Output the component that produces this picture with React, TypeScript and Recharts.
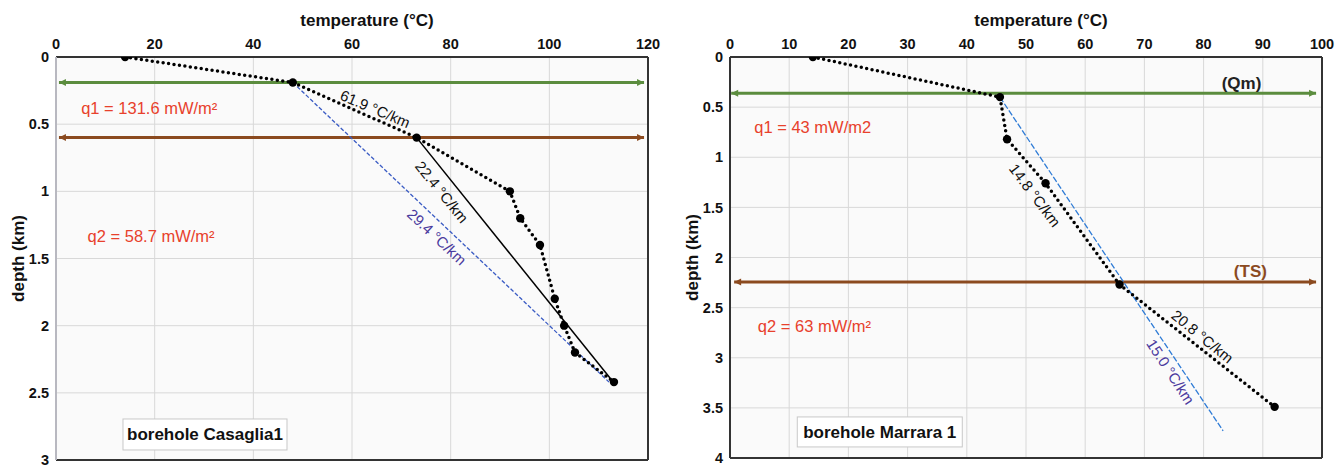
import React from 'react';
import { ComposedChart, Scatter, XAxis, YAxis, CartesianGrid, ReferenceLine, Label } from 'recharts';

const FONT = '"Liberation Sans", Arial, Helvetica, sans-serif';

// ---------- Left chart: borehole Casaglia1 ----------
const leftTempTicks = [0, 20, 40, 60, 80, 100, 120];
const leftDepthTicks = [0, 0.5, 1, 1.5, 2, 2.5, 3];
const leftProfileTemp = [14, 48, 73.1, 92, 94.1, 98.1, 101.1, 103, 105.2, 113.1];
const leftProfileDepth = [0, 0.19, 0.6, 1.0, 1.2, 1.4, 1.8, 2.0, 2.2, 2.42];
const leftSolidTemp = [73.1, 112.3];
const leftSolidDepth = [0.6, 2.39];
const leftBlueTemp = [48, 112.1];
const leftBlueDepth = [0.19, 2.42];
const leftGreenTemp = [0.6, 119.2];
const leftGreenDepth = [0.19, 0.19];
const leftBrownTemp = [0.6, 119.2];
const leftBrownDepth = [0.6, 0.6];
const leftGradTexts = ['61.9 °C/km', '22.4 °C/km'];
const leftGradTemp = [64.7, 78.2];
const leftGradDepth = [0.387, 1.005];
const leftGradAngle = [23, 51];
const leftBlueText = ['29.4 °C/km'];
const leftBlueTextTemp = [77.2];
const leftBlueTextDepth = [1.34];
const leftBlueTextAngle = [43];
const leftFluxTexts = ['q1 = 131.6 mW/m²', 'q2 = 58.7 mW/m²'];
const leftFluxTemp = [5.1, 6.4];
const leftFluxDepth = [0.38, 1.333];
const leftBoxText = ['borehole Casaglia1'];
const leftBoxTemp = [30.2];
const leftBoxDepth = [2.81];

// ---------- Right chart: borehole Marrara 1 ----------
const rightTempTicks = [0, 10, 20, 30, 40, 50, 60, 70, 80, 90, 100];
const rightDepthTicks = [0, 0.5, 1, 1.5, 2, 2.5, 3, 3.5, 4];
const rightProfileTemp = [14, 45.6, 46.8, 53.3, 65.8, 92];
const rightProfileDepth = [0, 0.4, 0.82, 1.26, 2.27, 3.49];
const rightBlueTemp = [45.6, 83.3];
const rightBlueDepth = [0.4, 3.73];
const rightGreenTemp = [0.2, 99.0];
const rightGreenDepth = [0.362, 0.362];
const rightBrownTemp = [0.7, 99.0];
const rightBrownDepth = [2.245, 2.245];
const rightGradTexts = ['14.8 °C/km', '20.8 °C/km'];
const rightGradTemp = [51.5, 79.8];
const rightGradDepth = [1.38, 2.79];
const rightGradAngle = [53, 39];
const rightBlueText = ['15.0 °C/km'];
const rightBlueTextTemp = [74.4];
const rightBlueTextDepth = [3.14];
const rightBlueTextAngle = [57];
const rightFluxTexts = ['q1 = 43 mW/m2', 'q2 = 63 mW/m²'];
const rightFluxTemp = [4.1, 4.7];
const rightFluxDepth = [0.7, 2.69];
const rightQmText = ['(Qm)'];
const rightQmTemp = [86.4];
const rightQmDepth = [0.26];
const rightTsText = ['(TS)'];
const rightTsTemp = [87.9];
const rightTsDepth = [2.14];
const rightBoxText = ['borehole Marrara 1'];
const rightBoxTemp = [25.3];
const rightBoxDepth = [3.74];

// ---------- helpers ----------
const pts = (t: number[], d: number[]) => t.map((v, i) => ({ t: v, d: d[i] }));
const arrowPts = (t: number[], d: number[]) => t.map((v, i) => ({ t: v, d: d[i], dir: i === 0 ? -1 : 1 }));
const txt = (s: string[], t: number[], d: number[], a?: number[]) =>
  s.map((v, i) => ({ t: t[i], d: d[i], text: v, angle: a ? a[i] : 0 }));

const GREEN = '#5b8c3e';
const BROWN = '#8b4a1f';
const RED = '#e8412c';
const PURPLE = '#4b3a9e';

const dotShape = (r: number) => (p: any) => <circle cx={p.cx} cy={p.cy} r={r} fill="#000" />;
const noShape = () => <g />;
const arrowShape = (color: string) => (p: any) => {
  const dir = p.payload.dir;
  const { cx, cy } = p;
  return (
    <polygon
      points={`${cx},${cy} ${cx - dir * 7},${cy - 3.5} ${cx - dir * 7},${cy + 3.5}`}
      fill={color}
    />
  );
};
const textShape = (color: string, size: number, weight: string, anchor: string) => (p: any) => {
  const { cx, cy, payload } = p;
  return (
    <text
      x={cx}
      y={cy}
      dy="0.35em"
      textAnchor={anchor as any}
      transform={payload.angle ? `rotate(${payload.angle} ${cx} ${cy})` : undefined}
      fill={color}
      fontSize={size}
      fontWeight={weight}
      fontFamily={FONT}
    >
      {payload.text}
    </text>
  );
};
const boxShape = (w: number, h: number) => (p: any) => {
  const { cx, cy, payload } = p;
  return (
    <g>
      <rect x={cx - w / 2} y={cy - h / 2} width={w} height={h} fill="#fff" stroke="#c8c8c8" strokeWidth={1} />
      <text x={cx} y={cy} dy="0.35em" textAnchor="middle" fontSize={17} fontWeight="bold" fill="#111" fontFamily={FONT}>
        {payload.text}
      </text>
    </g>
  );
};

const tickStyle = { fontSize: 14.5, fontWeight: 'bold', fill: '#111', fontFamily: FONT };

const xTitle = (p: any) => {
  const vb = p.viewBox;
  return (
    <text x={vb.x + vb.width / 2 + 15} y={26} textAnchor="middle" fontSize={17} fontWeight="bold" fill="#111" fontFamily={FONT}>
      temperature (°C)
    </text>
  );
};
const yTitle = (p: any) => {
  const vb = p.viewBox;
  const cy = vb.y + vb.height / 2;
  return (
    <text x={18} y={cy} transform={`rotate(-90 18 ${cy})`} dy="0.35em" textAnchor="middle" fontSize={17} fontWeight="bold" fill="#111" fontFamily={FONT}>
      depth (km)
    </text>
  );
};

type PanelProps = {
  width: number;
  height: number;
  margin: any;
  tempTicks: number[];
  depthTicks: number[];
  leftBorder: string;
  children: React.ReactNode;
};

function Panel({ width, height, margin, tempTicks, depthTicks, leftBorder, children }: PanelProps) {
  const tMax = tempTicks[tempTicks.length - 1];
  const dMax = depthTicks[depthTicks.length - 1];
  return (
    <ComposedChart width={width} height={height} margin={margin}>
      <CartesianGrid fill="#fafafa" stroke="#d8d8d8" strokeWidth={1} />
      <XAxis
        type="number"
        dataKey="t"
        orientation="top"
        domain={[0, tMax]}
        ticks={tempTicks}
        allowDataOverflow
        height={57}
        tickLine={false}
        tickSize={6}
        tickMargin={2}
        tick={tickStyle}
        axisLine={{ stroke: '#333', strokeWidth: 2 }}
        interval={0}
        label={<Label content={xTitle} />}
      />
      <YAxis
        type="number"
        dataKey="d"
        reversed
        domain={[0, dMax]}
        ticks={depthTicks}
        allowDataOverflow
        width={56}
        tickLine={false}
        tickSize={6}
        tickMargin={1}
        tick={tickStyle}
        axisLine={{ stroke: leftBorder, strokeWidth: 2 }}
        interval={0}
        label={<Label content={yTitle} />}
      />
      <ReferenceLine x={tMax} stroke="#333" strokeWidth={2} />
      <ReferenceLine y={dMax} stroke="#333" strokeWidth={2} />
      {children}
    </ComposedChart>
  );
}

export default function App() {
  return (
    <div style={{ position: 'absolute', left: 0, top: 0, width: 1343, height: 465, background: '#fff' }}>
      <div style={{ position: 'absolute', left: 0, top: 0 }}>
        <Panel
          width={668}
          height={465}
          margin={{ top: 0, right: 20, bottom: 5, left: 0 }}
          tempTicks={leftTempTicks}
          depthTicks={leftDepthTicks}
          leftBorder="#b8b8c0"
        >
          <Scatter data={arrowPts(leftGreenTemp, leftGreenDepth)} line={{ stroke: GREEN, strokeWidth: 3 }} shape={arrowShape(GREEN)} isAnimationActive={false} />
          <Scatter data={arrowPts(leftBrownTemp, leftBrownDepth)} line={{ stroke: BROWN, strokeWidth: 3 }} shape={arrowShape(BROWN)} isAnimationActive={false} />
          <Scatter data={pts(leftBlueTemp, leftBlueDepth)} line={{ stroke: '#3b5cc4', strokeWidth: 1.3, strokeDasharray: '4 2' }} shape={noShape} isAnimationActive={false} />
          <Scatter data={pts(leftSolidTemp, leftSolidDepth)} line={{ stroke: '#000', strokeWidth: 1.5 }} shape={noShape} isAnimationActive={false} />
          <Scatter
            data={pts(leftProfileTemp, leftProfileDepth)}
            line={{ stroke: '#000', strokeWidth: 3.5, strokeDasharray: '0 5.5', strokeLinecap: 'round' }}
            shape={dotShape(4.2)}
            isAnimationActive={false}
          />
          <Scatter data={txt(leftGradTexts, leftGradTemp, leftGradDepth, leftGradAngle)} shape={textShape('#111', 15, 'normal', 'middle')} isAnimationActive={false} />
          <Scatter data={txt(leftBlueText, leftBlueTextTemp, leftBlueTextDepth, leftBlueTextAngle)} shape={textShape(PURPLE, 15, 'normal', 'middle')} isAnimationActive={false} />
          <Scatter data={txt(leftFluxTexts, leftFluxTemp, leftFluxDepth)} shape={textShape(RED, 16.5, 'normal', 'start')} isAnimationActive={false} />
          <Scatter data={txt(leftBoxText, leftBoxTemp, leftBoxDepth)} shape={boxShape(164, 31)} isAnimationActive={false} />
        </Panel>
      </div>
      <div style={{ position: 'absolute', left: 674, top: 0 }}>
        <Panel
          width={669}
          height={465}
          margin={{ top: 0, right: 21, bottom: 7, left: 0 }}
          tempTicks={rightTempTicks}
          depthTicks={rightDepthTicks}
          leftBorder="#333"
        >
          <Scatter data={arrowPts(rightGreenTemp, rightGreenDepth)} line={{ stroke: GREEN, strokeWidth: 3 }} shape={arrowShape(GREEN)} isAnimationActive={false} />
          <Scatter data={arrowPts(rightBrownTemp, rightBrownDepth)} line={{ stroke: BROWN, strokeWidth: 3 }} shape={arrowShape(BROWN)} isAnimationActive={false} />
          <Scatter data={pts(rightBlueTemp, rightBlueDepth)} line={{ stroke: '#2e7bd6', strokeWidth: 1.3, strokeDasharray: '6 2' }} shape={noShape} isAnimationActive={false} />
          <Scatter
            data={pts(rightProfileTemp, rightProfileDepth)}
            line={{ stroke: '#000', strokeWidth: 3.5, strokeDasharray: '0 5.5', strokeLinecap: 'round' }}
            shape={dotShape(4.2)}
            isAnimationActive={false}
          />
          <Scatter data={txt(rightGradTexts, rightGradTemp, rightGradDepth, rightGradAngle)} shape={textShape('#111', 15, 'normal', 'middle')} isAnimationActive={false} />
          <Scatter data={txt(rightBlueText, rightBlueTextTemp, rightBlueTextDepth, rightBlueTextAngle)} shape={textShape(PURPLE, 15, 'normal', 'middle')} isAnimationActive={false} />
          <Scatter data={txt(rightFluxTexts, rightFluxTemp, rightFluxDepth)} shape={textShape(RED, 16.5, 'normal', 'start')} isAnimationActive={false} />
          <Scatter data={txt(rightQmText, rightQmTemp, rightQmDepth)} shape={textShape('#222', 17, 'bold', 'middle')} isAnimationActive={false} />
          <Scatter data={txt(rightTsText, rightTsTemp, rightTsDepth)} shape={textShape(BROWN, 17, 'bold', 'middle')} isAnimationActive={false} />
          <Scatter data={txt(rightBoxText, rightBoxTemp, rightBoxDepth)} shape={boxShape(165, 30)} isAnimationActive={false} />
        </Panel>
      </div>
    </div>
  );
}
